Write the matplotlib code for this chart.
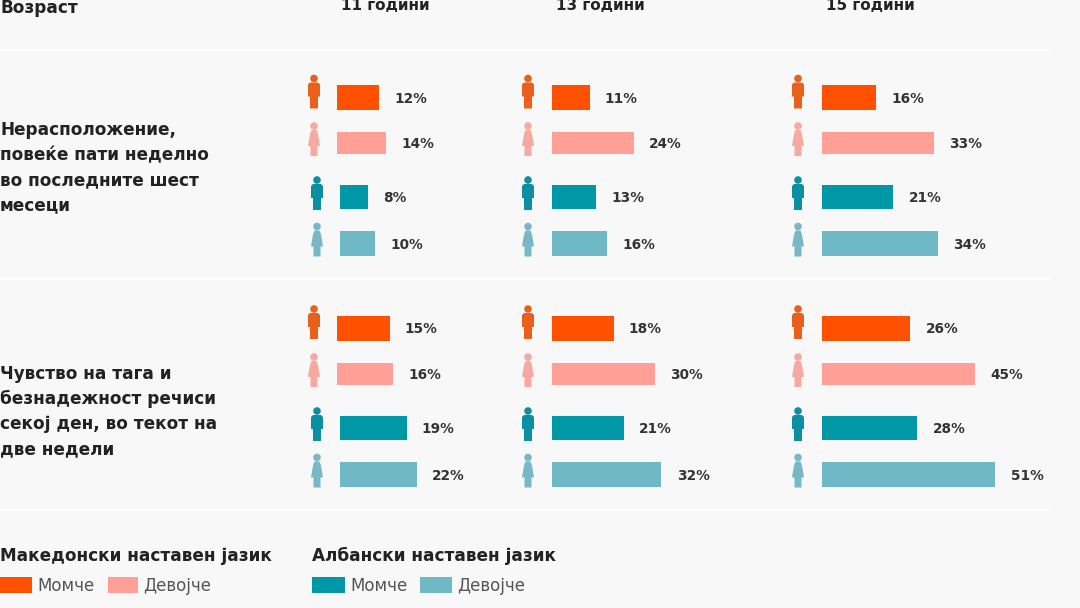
import matplotlib.pyplot as plt
from matplotlib.patches import Circle, Polygon, Rectangle

plt.rcParams['font.family'] = ['DejaVu Sans']

ages = ['11 години', '13 години', '15 години']
row_labels = ['Нерасположение,\nповеќе пати неделно\nво последните шест\nмесеци',
              'Чувство на тага и\nбезнадежност речиси\nсекој ден, во текот на\nдве недели']
age_header = 'Возраст'
legend_mk = 'Македонски наставен јазик'
legend_al = 'Албански наставен јазик'
boys = 'Момче'
girls = 'Девојче'

# order in each group: mk boys, mk girls, al boys, al girls
dislike_11 = [12, 14, 8, 10]
dislike_13 = [11, 24, 13, 16]
dislike_15 = [16, 33, 21, 34]
sad_11 = [15, 16, 19, 22]
sad_13 = [18, 30, 21, 32]
sad_15 = [26, 45, 28, 51]

BG = '#f8f8f8'
TXT = '#222222'
colors = ['#ff5000', '#ff9f96', '#0097a7', '#6fb9c6']
icon_colors = ['#e8601c', '#f7a8a0', '#0b8fa3', '#78b8c6']

W, H = 1080, 608
fig = plt.figure(figsize=(W / 100, H / 100), dpi=100, facecolor=BG)

# overlay in pixels for text, rules and icons
bg = fig.add_axes([0, 0, 1, 1])
bg.set_xlim(0, W)
bg.set_ylim(H, 0)
bg.axis('off')


def person(x, yc, color, girl=False):
    bg.add_patch(Circle((x, yc - 14), 3.8, color=color, lw=0))
    if girl:
        pts = [(x - 2.5, yc - 10), (x + 2.5, yc - 10), (x + 4, yc - 6), (x + 6, yc + 6),
               (x + 3.5, yc + 6), (x + 3.5, yc + 16), (x - 3.5, yc + 16), (x - 3.5, yc + 6),
               (x - 6, yc + 6), (x - 4, yc - 6)]
    else:
        pts = [(x - 4, yc - 10), (x + 4, yc - 10), (x + 6, yc - 8), (x + 6, yc + 4),
               (x + 4, yc + 4), (x + 4, yc + 16), (x - 4, yc + 16), (x - 4, yc + 4),
               (x - 6, yc + 4), (x - 6, yc - 8)]
    bg.add_patch(Polygon(pts, closed=True, color=color, lw=0))


px_per_pct = [3.5, 3.42, 3.4]
col_x0 = [337, 552, 822]
icon_x = [[314, 314, 317, 317], [528, 528, 528, 528], [798, 798, 798, 798]]
al_shift = [3, 0, 0]
row_y = [[97.5, 143, 197, 243.5], [328, 374, 428, 474.5]]
bar_h = [25, 22, 24, 25]
groups = [[dislike_11, dislike_13, dislike_15], [sad_11, sad_13, sad_15]]

for c, x0 in enumerate(col_x0):
    span = 70
    ax = fig.add_axes([x0 / W, 0, span * px_per_pct[c] / W, 1])
    ax.set_xlim(0, span)
    ax.set_ylim(H, 0)
    ax.axis('off')
    ax.patch.set_alpha(0)
    for g in range(2):
        vals = groups[g][c]
        for i in range(4):
            left = al_shift[c] / px_per_pct[c] if i >= 2 else 0
            ax.barh(row_y[g][i], vals[i], left=left, height=bar_h[i], color=colors[i])
            ax.annotate(f'{vals[i]}%', (left + vals[i], row_y[g][i]), xytext=(11, -1),
                        textcoords='offset points', va='center', ha='left',
                        fontsize=9.8, fontweight='bold', color='#333333')
            person(icon_x[c][i], row_y[g][i] - 5 if i == 0 else row_y[g][i] - 3,
                   icon_colors[i], girl=i % 2 == 1)

# headers
bg.text(0, 8, age_header, fontsize=12.2, fontweight='bold', color=TXT, va='center')
for label, x in zip(ages, [385, 600, 870]):
    bg.text(x, 6, label, fontsize=11, fontweight='bold', color=TXT, va='center', ha='center')

for y in [50, 279, 510]:
    bg.plot([0, 1050], [y, y], color='white', lw=1.5)

bg.text(0, 167.5, row_labels[0], fontsize=12.2, fontweight='bold', color=TXT, va='center',
        linespacing=1.5)
bg.text(0, 411.5, row_labels[1], fontsize=12.2, fontweight='bold', color=TXT, va='center',
        linespacing=1.5)

# legend
bg.text(0, 556, legend_mk, fontsize=12.2, fontweight='bold', color=TXT, va='center')
bg.text(312, 556, legend_al, fontsize=12.2, fontweight='bold', color=TXT, va='center')
swatches = [(0, 32, boys, 37), (108, 30, girls, 143), (312, 33, boys, 350), (420, 32, girls, 457)]
for i, (x, w, name, tx) in enumerate(swatches):
    bg.add_patch(Rectangle((x, 577), w, 16, color=colors[i], lw=0))
    bg.text(tx, 586, name, fontsize=12, color='#555555', va='center')

fig.savefig('out.png', dpi=100, facecolor=BG)
